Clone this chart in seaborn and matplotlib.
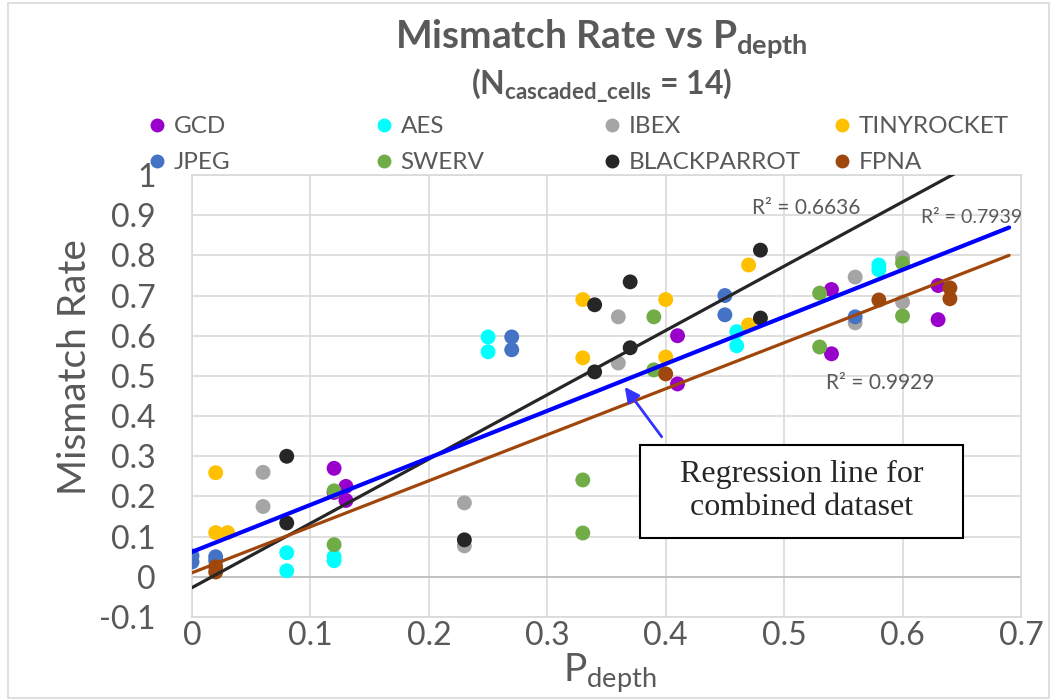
import matplotlib
matplotlib.use("Agg")
import matplotlib.pyplot as plt
from matplotlib.lines import Line2D
from matplotlib.patches import Rectangle
import seaborn as sns
import numpy as np
import pandas as pd

# datos
series = ['GCD', 'AES', 'IBEX', 'TINYROCKET', 'JPEG', 'SWERV', 'BLACKPARROT', 'FPNA']
colors = ['#9900CC', '#00FFFF', '#A5A5A5', '#FFC000', '#4472C4', '#70AD47', '#262626', '#9E480E']

gcd_x = [0.12, 0.12, 0.13, 0.13, 0.41, 0.41, 0.54, 0.54, 0.63, 0.63]
gcd_y = [0.27, 0.21, 0.225, 0.19, 0.60, 0.48, 0.715, 0.555, 0.725, 0.64]
aes_x = [0.08, 0.08, 0.12, 0.12, 0.25, 0.25, 0.46, 0.46, 0.58, 0.58]
aes_y = [0.06, 0.015, 0.05, 0.04, 0.597, 0.56, 0.61, 0.575, 0.776, 0.764]
ibex_x = [0.06, 0.06, 0.23, 0.23, 0.36, 0.36, 0.56, 0.56, 0.60, 0.60]
ibex_y = [0.26, 0.175, 0.184, 0.077, 0.647, 0.532, 0.746, 0.632, 0.794, 0.684]
tiny_x = [0.02, 0.02, 0.03, 0.33, 0.33, 0.40, 0.40, 0.47, 0.47]
tiny_y = [0.259, 0.11, 0.11, 0.69, 0.545, 0.69, 0.547, 0.776, 0.627]
jpeg_x = [0.0, 0.0, 0.02, 0.02, 0.27, 0.27, 0.45, 0.45, 0.56]
jpeg_y = [0.052, 0.037, 0.05, 0.04, 0.597, 0.565, 0.70, 0.652, 0.647]
swerv_x = [0.12, 0.12, 0.33, 0.33, 0.39, 0.39, 0.53, 0.53, 0.60, 0.60]
swerv_y = [0.214, 0.08, 0.241, 0.109, 0.647, 0.515, 0.706, 0.572, 0.781, 0.649]
bp_x = [0.08, 0.08, 0.23, 0.34, 0.34, 0.37, 0.37, 0.48, 0.48]
bp_y = [0.30, 0.134, 0.092, 0.677, 0.51, 0.734, 0.57, 0.813, 0.644]
fpna_x = [0.02, 0.02, 0.40, 0.58, 0.64, 0.64]
fpna_y = [0.025, 0.012, 0.505, 0.689, 0.719, 0.692]

# lineas de tendencia (pendiente, intercepto) y su R^2
trend_names = ['BLACKPARROT', 'FPNA', 'Combined']
trend_slope = [1.60, 1.145, 1.17]
trend_intercept = [-0.027, 0.010, 0.062]
trend_colors = ['#262626', '#A0460A', '#0000FF']
trend_r2 = ['R² = 0.6636', 'R² = 0.9929', 'R² = 0.7939']

xs = [gcd_x, aes_x, ibex_x, tiny_x, jpeg_x, swerv_x, bp_x, fpna_x]
ys = [gcd_y, aes_y, ibex_y, tiny_y, jpeg_y, swerv_y, bp_y, fpna_y]
df = pd.concat([pd.DataFrame({'P_depth': x, 'Mismatch': y, 'Design': s})
                for s, x, y in zip(series, xs, ys)], ignore_index=True)

sns.set_theme(style='white')
plt.rcParams['font.family'] = ['Lato', 'DejaVu Sans']
plt.rcParams['mathtext.fontset'] = 'custom'
plt.rcParams['mathtext.rm'] = 'Lato'
plt.rcParams['mathtext.bf'] = 'Lato:bold'
plt.rcParams['mathtext.it'] = 'Lato:italic'
gris = '#595959'

fig = plt.figure(figsize=(10.52, 7), dpi=100)
ax = fig.add_axes([0.1825, 0.1186, 0.788, 0.6314])

sns.scatterplot(data=df, x='P_depth', y='Mismatch', hue='Design', hue_order=series,
                palette=dict(zip(series, colors)), s=115, linewidth=0,
                legend=False, ax=ax, zorder=3)

xl = np.array([0, 0.69])
widths = [2.3, 2.3, 3.0]
for m, b, c, w in zip(trend_slope, trend_intercept, trend_colors, widths):
    ax.plot(xl, b + m * xl, color=c, lw=w, zorder=4)

ax.set_xlim(0, 0.7)
ax.set_ylim(-0.1, 1.0)
xt = np.round(np.arange(0, 0.71, 0.1), 1)
yt = np.round(np.arange(-0.1, 1.01, 0.1), 1)
ax.set_xticks(xt)
ax.set_yticks(yt)
ax.set_xticklabels([f'{v:g}' for v in xt])
ax.set_yticklabels([f'{v:g}' for v in yt])
ax.tick_params(axis='y', labelsize=23, colors=gris, pad=26, length=0)
ax.tick_params(axis='x', labelsize=23, colors=gris, pad=3, length=0)
ax.grid(True, color='#D9D9D9', lw=1.2)
ax.set_axisbelow(True)
ax.axhline(0, color='#BFBFBF', lw=1.3, zorder=1)
for sp in ax.spines.values():
    sp.set_color('#D9D9D9')
    sp.set_linewidth(1.2)

ax.set_ylabel('Mismatch Rate', fontsize=28, color=gris)
ax.yaxis.label.set_va('center')
ax.yaxis.set_label_coords(-0.141, 0.566)
ax.set_xlabel(r'P$_{\mathrm{depth}}$', fontsize=28, color=gris)
ax.xaxis.set_label_coords(0.504, -0.08)

# etiquetas R^2
ax.text(0.519, 0.918, trend_r2[0], fontsize=15, color=gris, ha='center', va='center')
ax.text(0.581, 0.483, trend_r2[1], fontsize=15, color=gris, ha='center', va='center')
ax.text(0.658, 0.893, trend_r2[2], fontsize=14, color=gris, ha='center', va='center',
        fontstretch='condensed')

# cuadro y flecha
ax.add_patch(Rectangle((0.378, 0.097), 0.273, 0.231, fc='white', ec='black', lw=1.5, zorder=5))
ax.text(0.515, 0.213, 'Regression line for\ncombined dataset', fontsize=23,
        family=['Liberation Serif'], ha='center', va='center', linespacing=1.2, zorder=6)
ax.annotate('', xy=(0.364, 0.478), xytext=(0.398, 0.343),
            arrowprops=dict(arrowstyle='-|>', color='#3333FF', lw=2, mutation_scale=22),
            zorder=6)

# titulo
fig.text(0.572, 0.945, r'Mismatch Rate vs P$_{\mathbf{depth}}$', fontsize=28,
         fontweight='bold', color=gris, ha='center', va='center')
fig.text(0.572, 0.878, r'(N$_{\mathbf{cascaded\_cells}}$ = 14)', fontsize=23,
         fontweight='bold', color=gris, ha='center', va='center')

# leyenda en 4 columnas igualmente espaciadas
handles = [Line2D([], [], marker='o', ls='', color=c, markersize=9) for c in colors]
col_left = [0.1407, 0.3565, 0.573, 0.792]
for i in range(4):
    fig.legend([handles[i], handles[i + 4]], [series[i], series[i + 4]],
               loc='upper left', bbox_to_anchor=(col_left[i], 0.834), frameon=False,
               fontsize=17.5, handlelength=0.75, handletextpad=0.3, labelspacing=0.62,
               borderpad=0, borderaxespad=0, labelcolor=gris)

# borde del grafico
fig.add_artist(Rectangle((0.0076, 0.003), 0.990, 0.993, transform=fig.transFigure,
                         fill=False, ec='#D9D9D9', lw=1.2))

fig.savefig('out.png', dpi=100)
